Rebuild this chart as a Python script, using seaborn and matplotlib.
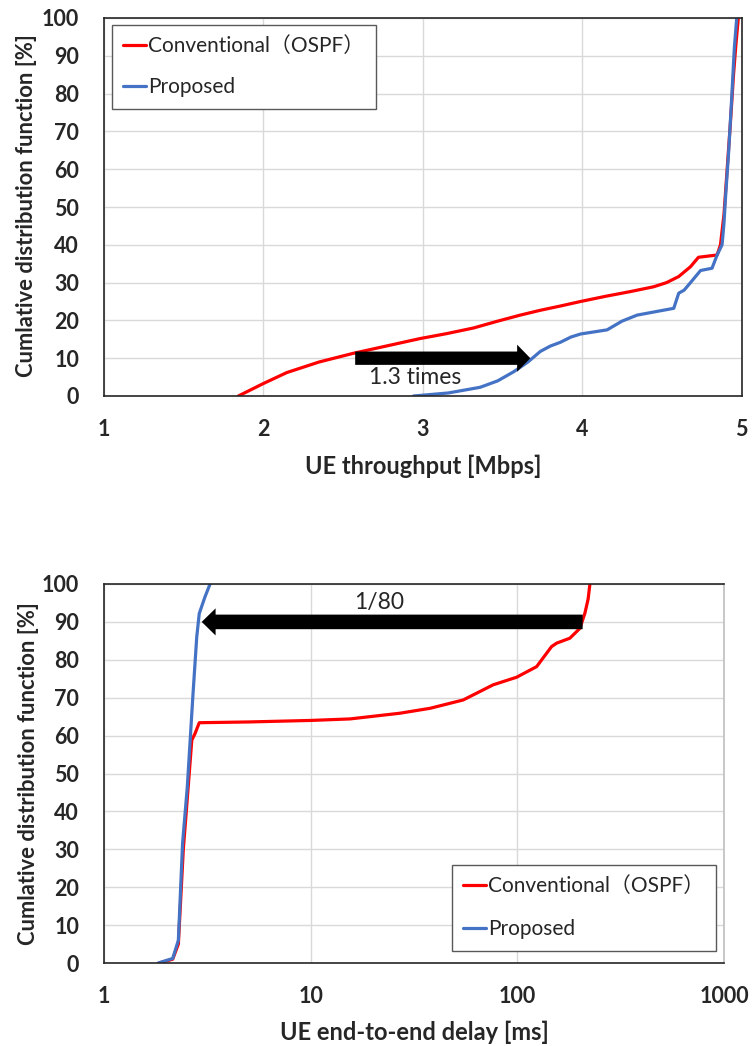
import matplotlib
matplotlib.use("Agg")
import matplotlib.pyplot as plt
import seaborn as sns
import pandas as pd
from matplotlib.ticker import FixedLocator, FixedFormatter, NullLocator

# ---------------- data ----------------
thr_conv_x = [1.843, 2.0, 2.147, 2.35, 2.565, 2.78, 2.984, 3.15, 3.319, 3.47, 3.612, 3.74, 3.863, 3.99,
              4.15, 4.3, 4.449, 4.53, 4.606, 4.68, 4.73, 4.847, 4.868, 4.89, 4.91, 4.93, 4.95, 4.965, 4.98]
thr_conv_y = [0, 3.3, 6.2, 9.0, 11.3, 13.3, 15.2, 16.5, 18.0, 19.8, 21.4, 22.7, 23.8, 25.0,
              26.4, 27.6, 28.9, 30.0, 31.6, 34.2, 36.7, 37.3, 40, 48, 60, 72, 85, 93, 100]
thr_prop_x = [2.942, 3.16, 3.36, 3.47, 3.57, 3.66, 3.738, 3.8, 3.863, 3.93, 3.99, 4.157, 4.25, 4.345,
              4.575, 4.606, 4.64, 4.69, 4.743, 4.815, 4.847, 4.878, 4.89, 4.9, 4.92, 4.94, 4.955, 4.97]
thr_prop_y = [0, 0.8, 2.3, 4.0, 6.4, 9.0, 11.8, 13.2, 14.2, 15.6, 16.4, 17.5, 19.8, 21.4,
              23.2, 27.2, 28.0, 30.5, 33.2, 33.8, 37.3, 40, 45.7, 52.7, 65, 80, 92, 100]

dly_conv_x = [1.85, 2.15, 2.29, 2.42, 2.49, 2.66, 2.76, 2.89, 5.0, 10.0, 15.5, 27.0, 37.8, 54.7, 76.4,
              99.2, 124, 146.5, 155, 179.6, 200.8, 212.3, 220, 224.5]
dly_conv_y = [0, 1.0, 5.0, 30.0, 38.6, 58.8, 60.6, 63.4, 63.6, 64.0, 64.4, 65.9, 67.2, 69.4, 73.4,
              75.4, 78.2, 83.5, 84.4, 85.7, 88.3, 92.3, 96.0, 100]
dly_prop_x = [1.83, 2.15, 2.29, 2.40, 2.53, 2.69, 2.81, 2.89, 3.08, 3.26]
dly_prop_y = [0, 1.2, 6.0, 31.6, 46.5, 70.2, 86.0, 92.2, 96.6, 100]

series_names = ["Conventional\uff08OSPF\uff09", "Proposed"]
series_colors = ["#FF0000", "#4472C4"]
y_ticks = list(range(0, 101, 10))
thr_ticks = [1, 2, 3, 4, 5]
dly_ticks = [1, 10, 100, 1000]
dly_tick_labels = ["1", "10", "100", "1000"]

# ---------------- style ----------------
sns.set_theme(style="white")
plt.rcParams["font.family"] = ["Lato", "Noto Sans CJK JP", "DejaVu Sans"]

W, H = 752, 1046
fig = plt.figure(figsize=(W / 100, H / 100), dpi=100)

def px_axes(l, t, r, b):
    return fig.add_axes([l / W, 1 - b / H, (r - l) / W, (b - t) / H])

ax1 = px_axes(104, 18, 741.5, 396)
ax2 = px_axes(104, 584, 724, 963)

TICK_FS = 15.5
XL_FS = 17
YL_FS = 15.8
LEG_FS = 15
ANN_FS = 16.5
LW = 2.3
GRID = "#D9D9D9"

def style_axes(ax):
    ax.set_ylim(0, 100)
    ax.set_yticks(y_ticks)
    ax.grid(True, color=GRID, lw=1.0)
    ax.set_axisbelow(True)
    ax.tick_params(axis="both", length=0, labelsize=TICK_FS)
    ax.tick_params(axis="y", pad=18)
    ax.tick_params(axis="x", pad=16.5)
    for lab in ax.get_xticklabels() + ax.get_yticklabels():
        lab.set_fontweight("bold")
    for s in ax.spines.values():
        s.set_color("#262626")
        s.set_linewidth(1.2)

def style_legend(leg):
    leg.get_frame().set_linewidth(1.0)
    for line in leg.get_lines():
        line.set_linewidth(LW)

leg_kw = dict(borderaxespad=0, fontsize=LEG_FS, frameon=True, fancybox=False, framealpha=1,
              edgecolor="#595959", handlelength=1.1, handletextpad=0.1, borderpad=0.55)

# ---------------- top chart ----------------
df1 = pd.concat([
    pd.DataFrame({"x": thr_conv_x, "y": thr_conv_y, "s": series_names[0]}),
    pd.DataFrame({"x": thr_prop_x, "y": thr_prop_y, "s": series_names[1]}),
])
sns.lineplot(data=df1, x="x", y="y", hue="s", palette=series_colors, sort=False,
             estimator=None, lw=LW, ax=ax1)
ax1.set_xlim(1, 5)
ax1.set_xticks(thr_ticks)
style_axes(ax1)
ax1.set_xlabel("UE throughput [Mbps]", fontsize=XL_FS, fontweight="bold")
ax1.set_ylabel("Cumlative distribution function [%]", fontsize=YL_FS, fontweight="bold")
ax1.xaxis.set_label_coords(0.5, -0.155)
ax1.yaxis.set_label_coords(-0.105, 0.505)
leg1 = ax1.legend(loc="upper left", bbox_to_anchor=(0.0125, 0.9815), labelspacing=1.0, **leg_kw)
style_legend(leg1)
ax1.annotate("", xy=(3.675, 10), xytext=(2.576, 10), xycoords="data",
             arrowprops=dict(arrowstyle="simple,head_length=9.5,head_width=19.5,tail_width=9.6",
                             mutation_scale=1, fc="black", ec="black", lw=0,
                             shrinkA=0, shrinkB=0))
ax1.text(2.95, 4.8, "1.3 times", fontsize=ANN_FS, ha="center", va="center")

# ---------------- bottom chart ----------------
df2 = pd.concat([
    pd.DataFrame({"x": dly_conv_x, "y": dly_conv_y, "s": series_names[0]}),
    pd.DataFrame({"x": dly_prop_x, "y": dly_prop_y, "s": series_names[1]}),
])
sns.lineplot(data=df2, x="x", y="y", hue="s", palette=series_colors, sort=False,
             estimator=None, lw=LW, ax=ax2)
ax2.set_xscale("log")
ax2.set_xlim(1, 1000)
ax2.xaxis.set_major_locator(FixedLocator(dly_ticks))
ax2.xaxis.set_major_formatter(FixedFormatter(dly_tick_labels))
ax2.xaxis.set_minor_locator(NullLocator())
style_axes(ax2)
ax2.spines["right"].set_color("#BFBFBF")
ax2.set_xlabel("UE end-to-end delay [ms]", fontsize=XL_FS, fontweight="bold")
ax2.set_ylabel("Cumlative distribution function [%]", fontsize=YL_FS, fontweight="bold")
ax2.xaxis.set_label_coords(0.5, -0.152)
ax2.yaxis.set_label_coords(-0.105, 0.5)
leg2 = ax2.legend(loc="upper left", bbox_to_anchor=(0.561, 0.2586), labelspacing=1.1, **leg_kw)
style_legend(leg2)
ax2.annotate("", xy=(2.97, 90), xytext=(207, 90), xycoords="data",
             arrowprops=dict(arrowstyle="simple,head_length=10,head_width=19.5,tail_width=10.5",
                             mutation_scale=1, fc="black", ec="black", lw=0,
                             shrinkA=0, shrinkB=0))
ax2.text(21.4, 95, "1/80", fontsize=ANN_FS, ha="center", va="center")

fig.savefig("out.png", dpi=100, facecolor="white")
